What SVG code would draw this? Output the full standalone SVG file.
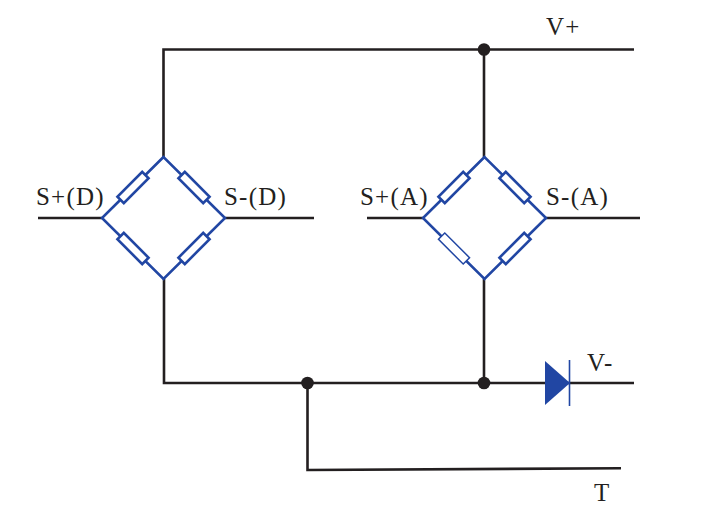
<svg xmlns="http://www.w3.org/2000/svg" width="714" height="510" viewBox="0 0 714 510">
<defs>
<style>
.w{fill:none;stroke:#231f20;stroke-width:2.600}
.b{fill:none;stroke:#2146a3;stroke-width:2.600}
.r{fill:#fff;stroke:#2146a3;stroke-width:2.600}
.t{stroke-width:1.500}
.d{fill:#231f20}
text{font-family:"Liberation Serif",serif;font-size:25px;letter-spacing:1.200px;fill:#231f20}
</style>
<rect id="res" x="-17.500" y="-4.500" width="35" height="9"/>
</defs>
<rect width="714" height="510" fill="#fff"/>
<g id="connectors">
<path class="w" d="M163.500 157V49.500H634"/>
<path class="w" d="M484 49.500V157"/>
<path class="w" d="M38 218H102M225 218H314"/>
<path class="w" d="M367 218H423M546 218H640"/>
<path class="w" d="M164 279V383H634"/>
<path class="w" d="M484 279V383"/>
<path class="w" d="M307.500 383V470L621 468.300"/>
</g>
<g id="junctions">
<circle class="d" cx="484" cy="49.500" r="6.300"/>
<circle class="d" cx="307.500" cy="383" r="6.300"/>
<circle class="d" cx="484" cy="383" r="6.300"/>
</g>
<g id="bridge-d" transform="translate(102 157)">
<path class="b" d="M61.500 0L0 61L61.500 122L123 61Z"/>
<use href="#res" class="r" transform="translate(31 30.500) rotate(-45)"/>
<use href="#res" class="r" transform="translate(92 30.500) rotate(45)"/>
<use href="#res" class="r" transform="translate(31 91.500) rotate(45)"/>
<use href="#res" class="r" transform="translate(92 91.500) rotate(-45)"/>
</g>
<g id="bridge-a" transform="translate(423 157)">
<path class="b" d="M61.500 0L0 61L61.500 122L123 61Z"/>
<use href="#res" class="r" transform="translate(31 30.500) rotate(-45)"/>
<use href="#res" class="r" transform="translate(92 30.500) rotate(45)"/>
<use href="#res" class="r t" transform="translate(31 91.500) rotate(45)"/>
<use href="#res" class="r" transform="translate(92 91.500) rotate(-45)"/>
</g>
<g id="diode">
<path d="M545 361L570 383L545 405Z" fill="#2146a3"/>
<path d="M569.500 360V406" fill="none" stroke="#2146a3" stroke-width="1.600"/>
</g>
<g id="labels">
<text x="546" y="35">V+</text>
<text x="36" y="205">S+(D)</text>
<text x="224" y="205">S-(D)</text>
<text x="360" y="205">S+(A)</text>
<text x="546" y="205">S-(A)</text>
<text x="587" y="371">V-</text>
<text x="594" y="501">T</text>
</g>
</svg>
